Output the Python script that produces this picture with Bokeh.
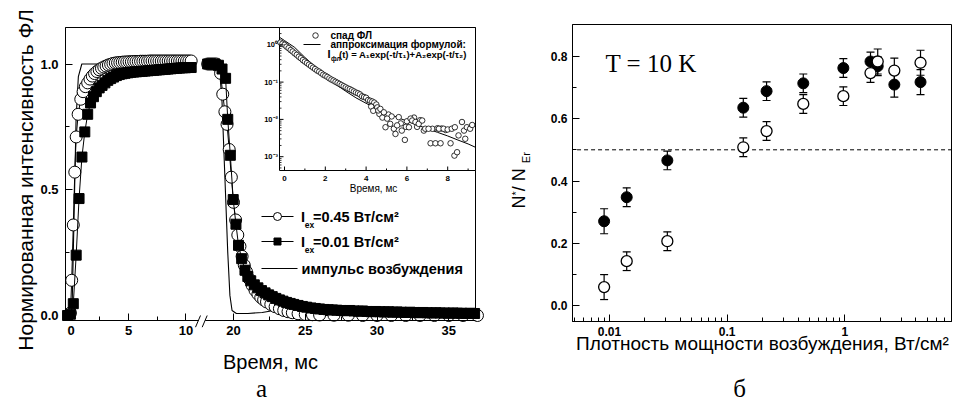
import math
from bokeh.plotting import figure
from bokeh.models import (Range1d, LogScale, LinearScale, FixedTicker, CustomJSTickFormatter,
                          NumeralTickFormatter, Label, ColumnDataSource, Whisker, TeeHead)
from bokeh.layouts import row
from bokeh.embed import file_html
from bokeh.resources import INLINE
from bokeh.core.properties import value

SANS = "Liberation Sans"
SERIF = "Liberation Serif"

# ======================= DATA: panel (а) =======================
# excitation pulse (solid line)
pulse_t = [-0.45, 0.0, 0.09, 0.26, 0.44, 0.64, 0.94, 1.6, 4.0, 7.0, 10.5,
           18.2, 18.6, 19.0, 19.2, 19.4, 19.6, 19.75, 19.9, 20.2, 21.0, 22.0,
           22.6, 23.0, 23.5, 24.2, 25.0, 30.0, 37.0]
pulse_y = [0.0, 0.0, 0.02, 0.38, 0.78, 0.95, 1.0, 1.0, 1.0, 1.0, 1.0,
           1.0, 1.0, 1.0, 0.85, 0.55, 0.25, 0.08, 0.02, 0.008, 0.008, 0.012,
           0.018, 0.02, 0.012, 0.004, 0.0, 0.0, 0.0]

# I_ex = 0.45 W/cm2 (open circles)
c45_t = [-0.05, 0.06, 0.2, 0.33, 0.45, 0.62, 0.85,
         1.05, 1.25, 1.45, 1.65, 1.85, 2.05, 2.25, 2.45, 2.65, 2.85,
         3.05, 3.25, 3.45, 3.65, 3.85, 4.05, 4.25, 4.45, 4.65, 4.85,
         5.05, 5.25, 5.45, 5.65, 5.85, 6.05, 6.25, 6.45, 6.65, 6.85,
         7.05, 7.25, 7.45, 7.65, 7.85, 8.05, 8.25, 8.45, 8.65, 8.85,
         9.05, 9.25, 9.45, 9.65, 9.85, 10.05, 10.25, 10.45,
         18.2, 18.35, 18.5, 18.65, 18.8, 18.95, 19.1, 19.25, 19.4, 19.55,
         19.7, 19.85, 20.0, 20.15, 20.3, 20.45, 20.6, 20.75, 20.9, 21.1,
         21.3, 21.5, 21.7, 21.9, 22.1, 22.3, 22.6, 22.9, 23.2, 23.5,
         23.8, 24.1, 24.5, 25.0, 25.5, 26.0, 27.0, 28.0, 29.0, 30.0,
         31.0, 32.0, 33.0, 34.0, 35.0, 36.0, 37.0]
c45_y = [0.01, 0.14, 0.36, 0.57, 0.71, 0.80, 0.86,
         0.89, 0.91, 0.925, 0.94, 0.952, 0.962, 0.97, 0.977, 0.983, 0.988,
         0.992, 0.996, 0.999, 1.002, 1.004, 1.005, 1.006, 1.007, 1.008, 1.008,
         1.009, 1.009, 1.01, 1.01, 1.01, 1.011, 1.011, 1.011, 1.011, 1.012,
         1.012, 1.012, 1.012, 1.012, 1.012, 1.012, 1.012, 1.012, 1.012, 1.012,
         1.012, 1.012, 1.012, 1.012, 1.012, 1.012, 1.012, 1.012,
         1.0, 1.0, 1.0, 1.0, 1.0, 0.99, 0.963, 0.88, 0.81, 0.76,
         0.66, 0.55, 0.45, 0.38, 0.32, 0.275, 0.235, 0.2, 0.175, 0.145,
         0.12, 0.1, 0.085, 0.072, 0.062, 0.054, 0.044, 0.035, 0.027, 0.02,
         0.015, 0.011, 0.007, 0.004, 0.003, 0.002, 0.001, 0.001, 0.0, 0.0,
         0.0, 0.0, 0.0, 0.0, 0.0, 0.0, 0.0]

# I_ex = 0.01 W/cm2 (filled squares)
c01_t = [-0.3, -0.05, 0.2, 0.45, 0.7, 0.95, 1.2, 1.45, 1.7, 1.95,
         2.2, 2.45, 2.7, 2.95, 3.2, 3.45, 3.7, 3.95, 4.2, 4.45,
         4.7, 4.95, 5.2, 5.45, 5.7, 5.95, 6.2, 6.45, 6.7, 6.95,
         7.2, 7.45, 7.7, 7.95, 8.2, 8.45, 8.7, 8.95, 9.2, 9.45,
         9.7, 9.95, 10.2, 10.45,
         18.2, 18.45, 18.7, 18.95, 19.2, 19.45, 19.6, 19.78, 19.98, 20.17,
         20.35, 20.57, 20.8, 21.0, 21.2, 21.45, 21.7, 21.95, 22.2, 22.45,
         22.7, 22.95, 23.2, 23.45, 23.7, 23.95, 24.2, 24.5, 24.8, 25.1,
         25.4, 25.7, 26.0, 26.3, 26.6, 26.9, 27.2, 27.5, 27.8, 28.1,
         28.4, 28.7, 29.0, 29.3, 29.6, 29.9, 30.2, 30.5, 30.8, 31.1,
         31.4, 31.7, 32.0, 32.3, 32.6, 32.9, 33.2, 33.5, 33.8, 34.1,
         34.4, 34.7, 35.0, 35.3, 35.6, 35.9, 36.2, 36.5, 36.8]
c01_y = [0.0, 0.005, 0.047, 0.24, 0.465, 0.63, 0.73, 0.80, 0.845, 0.87,
         0.89, 0.905, 0.915, 0.925, 0.935, 0.942, 0.948, 0.954, 0.958, 0.961,
         0.963, 0.965, 0.967, 0.968, 0.969, 0.97, 0.971, 0.972, 0.973, 0.974,
         0.975, 0.976, 0.977, 0.978, 0.979, 0.98, 0.981, 0.982, 0.983, 0.984,
         0.985, 0.985, 0.986, 0.986,
         1.0, 1.0, 1.0, 0.995, 0.98, 0.943, 0.78, 0.637, 0.461, 0.363,
         0.279, 0.226, 0.18, 0.155, 0.138, 0.122, 0.11, 0.099, 0.09, 0.082,
         0.075, 0.068, 0.062, 0.057, 0.052, 0.048, 0.044, 0.04, 0.036, 0.033,
         0.03, 0.028, 0.026, 0.024, 0.023, 0.022, 0.021, 0.02, 0.019, 0.02,
         0.018, 0.017, 0.018, 0.016, 0.015, 0.016, 0.015, 0.014, 0.015, 0.013,
         0.014, 0.013, 0.012, 0.013, 0.012, 0.011, 0.012, 0.011, 0.01, 0.011,
         0.01, 0.01, 0.009, 0.01, 0.009, 0.009, 0.008, 0.009, 0.008]

# inset: PL decay (open circles) and two-exponential fit (line)
dec_t = [-0.2, -0.1, 0.0, 0.1, 0.2, 0.3, 0.4, 0.5, 0.6, 0.7, 0.8, 0.9,
         1.0, 1.1, 1.2, 1.3, 1.4, 1.5, 1.6, 1.7, 1.8, 1.9,
         2.0, 2.1, 2.2, 2.3, 2.4, 2.5, 2.6, 2.7, 2.8, 2.9,
         3.0, 3.1, 3.2, 3.3, 3.4, 3.5, 3.6, 3.7, 3.8, 3.9,
         4.0, 4.1, 4.2, 4.3, 4.4, 4.5,
         4.25, 4.35, 4.55, 4.65, 5.1, 5.25, 5.7, 6.0, 6.35, 6.5, 6.65,
         7.25, 7.5, 7.7, 7.9,
         4.6, 4.7, 4.8, 4.87, 4.95, 5.03, 5.18, 5.36, 5.44, 5.52,
         5.6, 5.75, 5.9, 5.95, 6.1, 6.18, 6.26, 6.42, 6.58, 6.75,
         6.83, 6.9, 7.06, 7.16, 7.4, 7.57, 7.65, 7.8, 8.0, 8.14,
         8.2, 8.33, 8.35, 8.46, 8.53, 8.7, 8.8, 8.86, 8.94, 9.1, 9.2]
dec_I = [1.15, 1.07, 1.0, 0.891, 0.813, 0.724, 0.661, 0.589, 0.537, 0.479, 0.437, 0.389,
         0.355, 0.324, 0.295, 0.269, 0.245, 0.224, 0.204, 0.191, 0.174, 0.158,
         0.148, 0.138, 0.126, 0.117, 0.110, 0.102, 0.0955, 0.0891, 0.0832, 0.0776,
         0.0724, 0.0676, 0.0646, 0.0603, 0.0562, 0.0525, 0.0501, 0.0468, 0.0417, 0.0398,
         0.0380, 0.0331, 0.0316, 0.0302, 0.0282, 0.0251,
         0.022, 0.017, 0.021, 0.014, 0.0135, 0.012, 0.0078, 0.0089, 0.0112, 0.0063, 0.0095,
         0.0056, 0.0058, 0.0057, 0.0052,
         0.0174, 0.0191, 0.0112, 0.0155, 0.00617, 0.0105, 0.00759, 0.00562, 0.00407, 0.00692,
         0.0115, 0.00501, 0.00282, 0.00631, 0.00617, 0.0105, 0.00933, 0.00851, 0.00759, 0.00933,
         0.00501, 0.00562, 0.00562, 0.00229, 0.00229, 0.00562, 0.00229, 0.00562, 0.00537, 0.00229,
         0.00562, 0.00107, 0.00617, 0.00132, 0.00372, 0.00851, 0.00501, 0.00302, 0.00617, 0.00562,
         0.00708]
fit_t = [-0.25, 0.0, 0.5, 1.0, 1.5, 2.0, 2.5, 3.0, 3.5, 4.0, 4.5, 5.0, 5.5,
         6.0, 6.5, 7.0, 7.5, 8.0, 8.5, 9.0, 9.35]
fit_I = [1.6, 1.3, 0.85, 0.46, 0.26, 0.145, 0.088, 0.057, 0.038, 0.027, 0.0195,
         0.0148, 0.0115, 0.0090, 0.0071, 0.0056, 0.0045, 0.0036, 0.0028, 0.0022, 0.0018]

# ======================= DATA: panel (б) =======================
power = [0.009, 0.014, 0.031, 0.137, 0.216, 0.443, 0.97, 1.65, 1.9, 2.63, 4.39]
ratio_filled = [0.271, 0.348, 0.466, 0.635, 0.688, 0.713, 0.762, 0.783, 0.768, 0.709, 0.717]
err_filled = [0.04, 0.03, 0.03, 0.03, 0.03, 0.03, 0.03, 0.03, 0.03, 0.04, 0.04]
ratio_open = [0.06, 0.143, 0.207, 0.508, 0.56, 0.647, 0.672, 0.746, 0.783, 0.754, 0.779]
err_open = [0.04, 0.03, 0.03, 0.03, 0.03, 0.03, 0.03, 0.03, 0.04, 0.04, 0.04]
half_level = 0.5

for a, b in [(pulse_t, pulse_y), (c45_t, c45_y), (c01_t, c01_y), (dec_t, dec_I),
             (fit_t, fit_I), (power, ratio_filled), (power, ratio_open)]:
    assert len(a) == len(b), (len(a), len(b))

H = 402


def style_axes(p, fs):
    p.grid.visible = False
    p.background_fill_color = "white"
    p.border_fill_color = "white"
    p.outline_line_color = None
    for ax in (p.xaxis[0], p.yaxis[0]):
        ax.axis_line_color = "black"
        ax.axis_line_width = 1
        ax.major_tick_line_color = "black"
        ax.minor_tick_line_color = "black"
        ax.major_tick_in = 7
        ax.major_tick_out = 0
        ax.minor_tick_in = 4
        ax.minor_tick_out = 0
        ax.major_label_text_font = SANS
        ax.major_label_text_font_style = "bold"
        ax.major_label_text_font_size = fs
        ax.major_label_text_color = "black"


def txt(p, x, y, s, size, font=SANS, style="normal", align="left", angle=0.0):
    """text placed in page-pixel coordinates (ranges named 'px'), vertically centred"""
    p.add_layout(Label(x=x, y=y, x_range_name="px", y_range_name="px", text=s,
                       text_font=font, text_font_size=size, text_font_style=style,
                       text_align=align, text_baseline="middle", angle=angle,
                       text_color="black"))


# ======================= PANEL (а) =======================
W1 = 486


def brk(t):
    """broken time axis: 0-11 ms at 11.5 px/ms, 18-37 ms at 14.35 px/ms"""
    if t < 15:
        return t
    return 14.1304 + (t - 20.0) * 1.24783


def split(ts, ys):
    out = []
    for cond in (lambda t: t < 15, lambda t: t >= 15):
        xs = [brk(t) for t in ts if cond(t)]
        yy = [y for t, y in zip(ts, ys) if cond(t)]
        out.append((xs, yy))
    return out


# the plotting frame covers the whole canvas; the visible box is 65..475 x 27..320 px
p1 = figure(width=W1, height=H, output_backend="svg", toolbar_location=None,
            x_range=Range1d(-6.13043, 36.13043), y_range=Range1d(-0.345924, 1.252485),
            min_border=0, min_border_left=0, min_border_right=0, min_border_top=0,
            min_border_bottom=0)
p1.extra_x_ranges = {"px": Range1d(0, W1), "ins": Range1d(-13.92157, 9.90196)}
p1.extra_y_ranges = {"px": Range1d(H, 0), "ins": Range1d(10 ** -9.58981, 10 ** 1.187668)}
p1.extra_x_scales = {"px": LinearScale(), "ins": LinearScale()}
p1.extra_y_scales = {"px": LinearScale(), "ins": LogScale()}
style_axes(p1, "13px")

BX0, BX1, BY0, BY1 = -0.478261, 35.173913, -0.019881, 1.145129
p1.xaxis.fixed_location = BY0
p1.xaxis.bounds = (BX0, BX1)
p1.yaxis.fixed_location = BX0
p1.yaxis.bounds = (BY0, BY1)

# frame box
p1.quad(left=[65], right=[475], top=[27], bottom=[320], x_range_name="px", y_range_name="px",
        fill_color=None, line_color="black", line_width=1)

# pulse
for xs, ys in split(pulse_t, pulse_y):
    p1.line(xs, ys, line_color="black", line_width=1.1)
# 0.45 W/cm2
for xs, ys in split(c45_t, c45_y):
    p1.line(xs, ys, line_color="black", line_width=1)
    p1.scatter(xs, ys, marker="circle", size=12, fill_color="white",
               line_color="black", line_width=1)
# 0.01 W/cm2
for xs, ys in split(c01_t, c01_y):
    p1.line(xs, ys, line_color="black", line_width=1)
    p1.scatter(xs, ys, marker="square", size=10, fill_color="black",
               line_color="black", line_width=1)

# main axes ticks
tick_ms = [0, 5, 10, 20, 25, 30, 35]
tick_u = [brk(t) for t in tick_ms]
p1.xaxis.ticker = FixedTicker(ticks=tick_u, minor_ticks=[brk(t) for t in [2.5, 7.5, 22.5, 27.5, 32.5]])
p1.xaxis.formatter = CustomJSTickFormatter(
    args=dict(pos=tick_u, lab=[str(t) for t in tick_ms]),
    code="for (let i = 0; i < pos.length; i++) { if (Math.abs(pos[i] - tick) < 1e-6) return lab[i]; } return '';")
p1.yaxis.ticker = FixedTicker(ticks=[0.0, 0.5, 1.0], minor_ticks=[0.25, 0.75])
p1.yaxis.formatter = NumeralTickFormatter(format="0.0")
p1.xaxis.major_label_standoff = 5
p1.yaxis.major_label_standoff = 7

# main legend (page-pixel coordinates)
R1, R2, R3 = 216, 241, 268
p1.segment(x0=[261, 261, 261], y0=[R1, R2, R3], x1=[293, 293, 297], y1=[R1, R2, R3],
           x_range_name="px", y_range_name="px", line_color="black", line_width=1.2)
p1.scatter([277], [R1], marker="circle", size=8, fill_color="white", line_color="black",
           x_range_name="px", y_range_name="px")
p1.scatter([277], [R2], marker="square", size=7, fill_color="black", line_color="black",
           x_range_name="px", y_range_name="px")
for r, rest in ((R1, "=0.45 Вт/см²"), (R2, "=0.01 Вт/см²")):
    txt(p1, 300.5, r, "I", "14.5px", style="bold")
    txt(p1, 304.3, r + 8.5, "ex", "8.5px", style="bold")
    txt(p1, 312.5, r, rest, "14.5px", style="bold")
txt(p1, 301, R3, "импульс возбуждения", "14.5px", style="bold")

# ---------- inset (box 279..475 x 27..170 px) ----------
p1.quad(left=[279], right=[475], top=[27], bottom=[170], x_range_name="px", y_range_name="px",
        fill_color="white", line_color="black", line_width=1)
p1.line(fit_t, fit_I, x_range_name="ins", y_range_name="ins", line_color="black", line_width=1)
p1.scatter(dec_t, dec_I, x_range_name="ins", y_range_name="ins", marker="circle", size=5.5,
           fill_color="white", line_color="black", line_width=0.8)

ix_major = [0, 2, 4, 6, 8]
ix_minor = [1, 3, 5, 7, 9]
p1.segment(x0=ix_major, y0=[170] * 5, x1=ix_major, y1=[166] * 5,
           x_range_name="ins", y_range_name="px", line_color="black", line_width=1)
p1.segment(x0=ix_minor, y0=[170] * 5, x1=ix_minor, y1=[168] * 5,
           x_range_name="ins", y_range_name="px", line_color="black", line_width=1)
iy_major = [1.0, 0.1, 0.01, 0.001]
iy_minor = [m * 10.0 ** e for e in range(-4, 1) for m in range(2, 10)
            if 4.3e-4 < m * 10.0 ** e < 2.9]
p1.segment(x0=[279] * len(iy_major), y0=iy_major, x1=[283] * len(iy_major), y1=iy_major,
           x_range_name="px", y_range_name="ins", line_color="black", line_width=1)
p1.segment(x0=[279] * len(iy_minor), y0=iy_minor, x1=[281] * len(iy_minor), y1=iy_minor,
           x_range_name="px", y_range_name="ins", line_color="black", line_width=0.8)
p1.text(x=ix_major, y=[177.5] * 5, text=[str(v) for v in ix_major],
        x_range_name="ins", y_range_name="px", text_font=value(SANS), text_font_style="bold",
        text_font_size="8px", text_align="center", text_baseline="middle", text_color="black")
p1.text(x=[277.5] * 4, y=iy_major, text=["10⁰", "10⁻¹", "10⁻²", "10⁻³"],
        x_range_name="px", y_range_name="ins", text_font=value(SANS), text_font_style="bold",
        text_font_size="7.5px", text_align="right", text_baseline="middle", text_color="black")
txt(p1, 373, 188, "Время, мс", "10px", align="center")
# inset legend
p1.scatter([315], [35], marker="circle", size=5.5, fill_color="white", line_color="black",
           line_width=0.8, x_range_name="px", y_range_name="px")
p1.segment(x0=[303], y0=[44], x1=[320], y1=[44], x_range_name="px", y_range_name="px",
           line_color="black", line_width=1)
txt(p1, 330, 35, "спад ФЛ", "10px", style="bold")
txt(p1, 330, 44, "аппроксимация формулой:", "10px", style="bold")
txt(p1, 327, 53.5, "I", "11px", style="bold")
txt(p1, 330.5, 57.5, "фл", "6.5px", style="bold")
txt(p1, 338.5, 53.5, "(t) = A₁exp(-t/τ₁)+A₂exp(-t/τ₂)", "9.5px", style="bold")

# axis break marks
p1.quad(left=[198.3], right=[204.7], top=[318.4], bottom=[321.6], x_range_name="px",
        y_range_name="px", fill_color="white", line_color=None, level="overlay")
p1.segment(x0=[195, 201.7], y0=[326.7, 326.7], x1=[200, 206.7], y1=[315, 315],
           x_range_name="px", y_range_name="px", line_color="black", line_width=1,
           level="overlay")

# axis titles and caption
txt(p1, 24.5, 179.5, "Нормированная интенсивность ФЛ", "21px", align="center",
    angle=math.pi / 2)
txt(p1, 270, 361, "Время, мс", "20px", align="center")
txt(p1, 261, 387.5, "а", "25px", font=SERIF, align="center")

# ======================= PANEL (б) =======================
X2 = 486
W2 = 468
p2 = figure(width=W2, height=H, output_backend="svg", toolbar_location=None,
            x_axis_type="log", x_range=Range1d(9.0146e-4, 8.5337),
            y_range=Range1d(-0.309936, 0.978526),
            min_border=0, min_border_left=0, min_border_right=0, min_border_top=0,
            min_border_bottom=0)
p2.extra_x_ranges = {"px": Range1d(X2, X2 + W2)}
p2.extra_y_ranges = {"px": Range1d(H, 0)}
p2.extra_x_scales = {"px": LinearScale()}
p2.extra_y_scales = {"px": LinearScale()}
style_axes(p2, "12px")

CX0, CX1, CY0, CY1 = 0.0048497, 8.0479, -0.050321, 0.901603
p2.xaxis.fixed_location = CY0
p2.xaxis.bounds = (CX0, CX1)
p2.yaxis.fixed_location = CX0
p2.yaxis.bounds = (CY0, CY1)

p2.quad(left=[572], right=[951], top=[24], bottom=[321], x_range_name="px", y_range_name="px",
        fill_color=None, line_color="black", line_width=1)
p2.line([0.0053, CX1], [half_level, half_level], line_color="black", line_width=1,
        line_dash="4 3")

src_f = ColumnDataSource(dict(x=power, y=ratio_filled,
                              lo=[v - e for v, e in zip(ratio_filled, err_filled)],
                              hi=[v + e for v, e in zip(ratio_filled, err_filled)]))
src_o = ColumnDataSource(dict(x=power, y=ratio_open,
                              lo=[v - e for v, e in zip(ratio_open, err_open)],
                              hi=[v + e for v, e in zip(ratio_open, err_open)]))
for src in (src_f, src_o):
    p2.add_layout(Whisker(source=src, base="x", upper="hi", lower="lo", dimension="height",
                          line_color="black", line_width=1.2,
                          upper_head=TeeHead(size=8, line_color="black", line_width=1.2),
                          lower_head=TeeHead(size=8, line_color="black", line_width=1.2)))
p2.scatter("x", "y", source=src_f, marker="circle", size=11, fill_color="black",
           line_color="black", line_width=1)
p2.scatter("x", "y", source=src_o, marker="circle", size=11, fill_color="white",
           line_color="black", line_width=1.3)

p2.xaxis.ticker = FixedTicker(
    ticks=[0.01, 0.1, 1.0],
    minor_ticks=[m * 10.0 ** e for e in range(-3, 1) for m in range(2, 10)
                 if CX0 < m * 10.0 ** e < CX1])
p2.xaxis.formatter = CustomJSTickFormatter(code="return tick.toString();")
p2.yaxis.ticker = FixedTicker(ticks=[0.0, 0.2, 0.4, 0.6, 0.8], minor_ticks=[0.1, 0.3, 0.5, 0.7])
p2.yaxis.formatter = NumeralTickFormatter(format="0.0")
p2.xaxis.major_label_standoff = 5
p2.yaxis.major_label_standoff = 5

txt(p2, 605, 63.3, "T = 10 K", "25px", font=SERIF)
txt(p2, 762, 343.3, "Плотность мощности возбуждения, Вт/см²", "19px", align="center")
txt(p2, 739, 387.5, "б", "25px", font=SERIF, align="center")
# y title  N* / N_Er  (rotated, assembled from pieces)
for s, cx, y0, fs in [("N", 518.8, 208, "18px"), ("*", 515.2, 195.0, "11px"),
                      (" / N", 518.8, 190.7, "18px"), ("Er", 525.2, 162.7, "11px")]:
    txt(p2, cx, y0, s, fs, angle=math.pi / 2)

layout = row(p1, p2)
open("out.html", "w").write(file_html(layout, INLINE, title="ФЛ"))
